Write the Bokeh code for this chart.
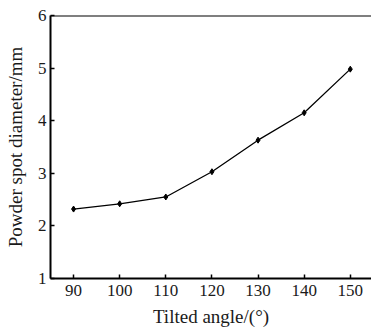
from bokeh.plotting import figure
from bokeh.models import Range1d, FixedTicker, Span
from bokeh.embed import file_html
from bokeh.resources import INLINE

angles = [90, 100, 110, 120, 130, 140, 150]
diameters = [2.32, 2.42, 2.55, 3.03, 3.63, 4.15, 4.98]
x_ticks = [90, 100, 110, 120, 130, 140, 150]
y_ticks = [1, 2, 3, 4, 5, 6]

FONT = "Liberation Serif"
TXT = "#1a1a1a"

p = figure(width=371, height=332, output_backend="svg", toolbar_location=None,
           x_range=Range1d(85, 154.6), y_range=Range1d(1, 6),
           min_border_left=50, min_border_right=0, min_border_top=15, min_border_bottom=54)
p.outline_line_color = None
p.grid.visible = False
p.background_fill_color = "white"
p.border_fill_color = "white"

p.line(angles, diameters, line_color="black", line_width=1.3)
p.scatter(angles, diameters, marker="diamond", size=6, fill_color="black", line_color="black")

for ax, ticks in ((p.xaxis[0], x_ticks), (p.yaxis[0], y_ticks)):
    ax.ticker = FixedTicker(ticks=ticks)
    ax.minor_tick_line_color = None
    ax.major_tick_in = 4
    ax.major_tick_out = 0
    ax.axis_line_width = 2
    ax.axis_line_color = "black"
    ax.major_tick_line_color = "black"
    ax.major_tick_line_width = 1.5
    ax.major_label_text_font = FONT
    ax.major_label_text_font_size = "17px"
    ax.major_label_text_color = TXT
    ax.axis_label_text_font = FONT
    ax.axis_label_text_font_size = "19px"
    ax.axis_label_text_font_style = "normal"
    ax.axis_label_text_color = TXT

p.xaxis.axis_label = "Tilted angle/(\u00b0)"
p.yaxis.axis_label = "Powder spot diameter/mm"
p.xaxis.major_label_standoff = 6
p.xaxis.axis_label_standoff = 7
p.yaxis.major_label_standoff = 4
p.yaxis.axis_label_standoff = 9

top_line = Span(location=6, dimension="width", line_color="black", line_width=2)
p.add_layout(top_line)

open("out.html", "w").write(file_html(p, INLINE))
